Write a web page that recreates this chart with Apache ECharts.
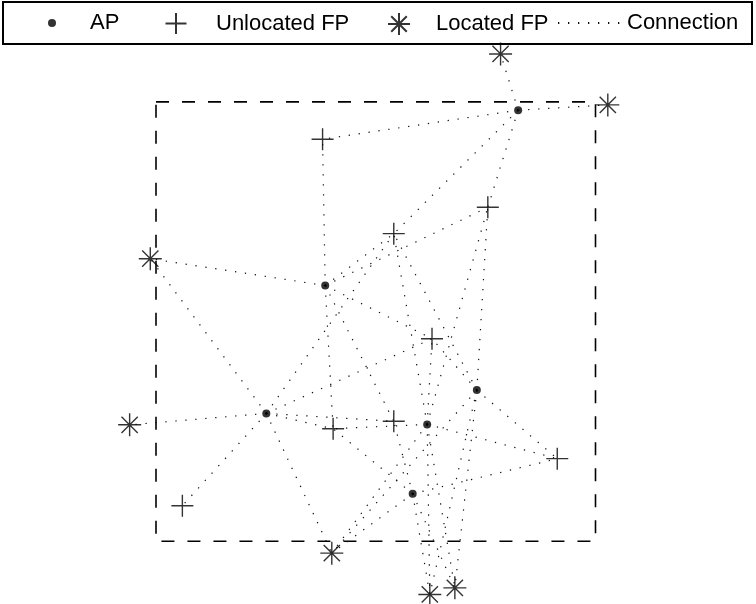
<!DOCTYPE html>
<html>
<head>
<meta charset="utf-8">
<script src="https://cdn.jsdelivr.net/npm/echarts@6/dist/echarts.min.js"></script>
<style>
  html, body { margin: 0; padding: 0; background: #fff; }
  #chart { width: 756px; height: 604px; }
</style>
</head>
<body>
<div id="chart"></div>
<script>
// Deployment area (square, in metres)
const AREA_CORNERS_X = [0, 100, 100, 0, 0];
const AREA_CORNERS_Y = [100, 100, 0, 0, 100];

// Access points
const AP_X = [82.4, 38.5, 25.1, 73.0, 61.7, 58.4];
const AP_Y = [98.1, 58.2, 29.1, 34.4, 26.6, 10.8];

// Fingerprints that could not be located (U1..U8)
const UFP_X = [37.9, 75.5, 54.1, 62.8, 54.1, 40.3, 91.3, 6.0];
const UFP_Y = [91.5, 76.0, 70.0, 46.1, 27.3, 25.6, 18.8, 8.1];

// Fingerprints with known location (L1..L7)
const LFP_X = [78.4, 102.8, -1.3, -6.0, 40.0, 62.3, 68.0];
const LFP_Y = [110.9, 99.3, 64.3, 26.5, -2.7, -12.1, -10.6];

// AP index -> fingerprints heard by that AP
const LINKS_AP1 = ['L1', 'L2', 'U1', 'U2', 'U3'];
const LINKS_AP2 = ['U1', 'L3', 'U6', 'U3', 'U2', 'U4', 'U5'];
const LINKS_AP3 = ['L3', 'L4', 'U8', 'L5', 'U3', 'U4', 'U5', 'U6'];
const LINKS_AP4 = ['U2', 'U3', 'U4', 'U7', 'L5', 'L6', 'L7'];
const LINKS_AP5 = ['U2', 'U3', 'U4', 'U6', 'U7', 'L5', 'L6', 'L7'];
const LINKS_AP6 = ['U5', 'U6', 'U7', 'L5', 'L6', 'L7'];
const LINKS = [LINKS_AP1, LINKS_AP2, LINKS_AP3, LINKS_AP4, LINKS_AP5, LINKS_AP6];

function fpPoint(id) {
  const i = parseInt(id.slice(1), 10) - 1;
  return id[0] === 'U' ? [UFP_X[i], UFP_Y[i]] : [LFP_X[i], LFP_Y[i]];
}

const zip = (xs, ys) => xs.map((x, i) => [x, ys[i]]);

const PLUS = 'path://M0,10 L20,10 M10,0 L10,20';
const STAR = 'path://M10,0 L10,20 M0,10 L20,10 M2.93,2.93 L17.07,17.07 M17.07,2.93 L2.93,17.07';

const connectionStyle = { color: '#111', width: 1.2, type: [1.3, 8.7] };

const connectionSeries = [];
LINKS.forEach((fps, a) => {
  fps.forEach(id => {
    connectionSeries.push({
      type: 'line',
      name: 'Connection',
      data: [[AP_X[a], AP_Y[a]], fpPoint(id)],
      symbol: 'none',
      itemStyle: { color: '#111' },
      lineStyle: connectionStyle,
      silent: true,
      z: 1
    });
  });
});

const FONT = { fontSize: 22, color: '#000', fontFamily: 'Liberation Sans, Arial, sans-serif' };

const legendBase = {
  orient: 'horizontal',
  top: 12,
  padding: 0,
  selectedMode: false,
  textStyle: FONT,
  itemGap: 0
};

const chart = echarts.init(document.getElementById('chart'), null, { renderer: 'canvas' });
chart.setOption({
  animation: false,
  backgroundColor: '#fff',
  graphic: [{
    type: 'rect',
    z: -1,
    shape: { x: 3, y: 2, width: 749, height: 42 },
    style: { fill: '#fff', stroke: '#000', lineWidth: 2 }
  }],
  legend: [
    Object.assign({}, legendBase, { data: ['AP'], left: 48, itemWidth: 66, itemHeight: 8 }),
    Object.assign({}, legendBase, { data: ['Unlocated FP'], left: 164.5, itemWidth: 70, itemHeight: 21 }),
    Object.assign({}, legendBase, { data: ['Located FP'], left: 387, itemWidth: 64, itemHeight: 22 }),
    Object.assign({}, legendBase, {
      data: ['Connection'], left: 557, itemWidth: 64, itemHeight: 14,
      itemStyle: { color: 'rgba(0,0,0,0)', borderColor: 'rgba(0,0,0,0)', borderWidth: 0 }
    })
  ],
  grid: { left: 24.15, right: 28.65, top: 44.7, bottom: 5.6 },
  xAxis: { type: 'value', min: -30, max: 130, show: false },
  yAxis: { type: 'value', min: -13, max: 113, show: false },
  series: [
    {
      type: 'line',
      name: 'Area',
      data: zip(AREA_CORNERS_X, AREA_CORNERS_Y),
      symbol: 'none',
      lineStyle: { color: '#000', width: 1.6, type: [13, 13] },
      silent: true,
      z: 1
    },
    ...connectionSeries,
    {
      type: 'scatter',
      name: 'AP',
      data: zip(AP_X, AP_Y),
      symbol: 'circle',
      symbolSize: 8,
      itemStyle: { color: '#000' },
      clip: false,
      z: 5
    },
    {
      type: 'scatter',
      name: 'Unlocated FP',
      data: zip(UFP_X, UFP_Y),
      symbol: PLUS,
      symbolSize: 22,
      itemStyle: { color: '#000', borderColor: '#000', borderWidth: 1.4 },
      clip: false,
      z: 5
    },
    {
      type: 'scatter',
      name: 'Located FP',
      data: zip(LFP_X, LFP_Y),
      symbol: STAR,
      symbolSize: 23,
      itemStyle: { color: '#000', borderColor: '#000', borderWidth: 1.4 },
      clip: false,
      z: 5
    }
  ]
});
</script>
</body>
</html>
